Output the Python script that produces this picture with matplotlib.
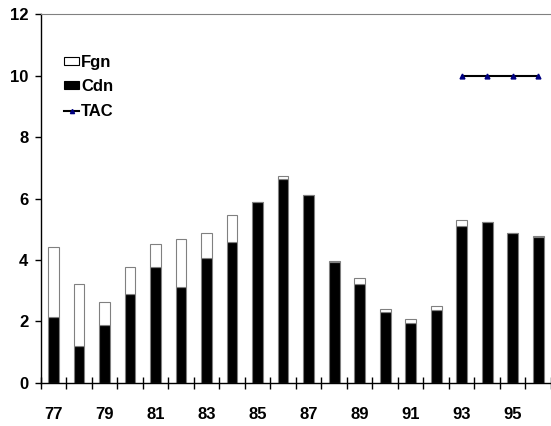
import numpy as np
import matplotlib
matplotlib.use("Agg")
import matplotlib.pyplot as plt
from matplotlib.patches import Patch
from matplotlib.lines import Line2D

plt.rcParams['font.family'] = ['Liberation Sans', 'DejaVu Sans']
plt.rcParams['font.weight'] = 'bold'

years = ['77', '78', '79', '80', '81', '82', '83', '84', '85', '86',
         '87', '88', '89', '90', '91', '92', '93', '94', '95', '96']
cdn = [2.13, 1.21, 1.89, 2.90, 3.76, 3.11, 4.07, 4.60, 5.90, 6.65,
       6.11, 3.92, 3.23, 2.30, 1.96, 2.38, 5.12, 5.22, 4.89, 4.74]
fgn = [2.29, 2.02, 0.73, 0.87, 0.75, 1.57, 0.81, 0.86, 0.0, 0.07,
       0.0, 0.04, 0.18, 0.12, 0.12, 0.13, 0.18, 0.0, 0.0, 0.04]
tac = [np.nan] * 16 + [10, 10, 10, 10]

fig = plt.figure(figsize=(5.51, 4.26), dpi=100)
ax = fig.add_axes([0.074, 0.101, 0.926, 0.866])

x = np.arange(len(years))
ax.bar(x, cdn, width=0.42, color='black', edgecolor='#808080', linewidth=0.8)
ax.bar(x, fgn, width=0.42, bottom=cdn, color='white', edgecolor='#808080', linewidth=0.8)
ax.plot(x, tac, color='black', lw=1.5, marker='^', markersize=3.5,
        markerfacecolor='#000080', markeredgecolor='#000080')

ax.set_xlim(-0.5, len(years) - 0.5)
ax.set_ylim(0, 12)
ax.set_yticks(range(0, 13, 2))
ax.tick_params(axis='y', direction='out', length=4, width=1, pad=5, labelsize=12)

ax.set_xticks(x[::2])
ax.set_xticklabels(years[::2])
ax.set_xticks(np.arange(-0.5, len(years), 1), minor=True)
ax.tick_params(axis='x', which='major', length=0, pad=17.5, labelsize=12)
ax.tick_params(axis='x', which='minor', direction='inout', length=9, width=1)

for lab in ax.get_xticklabels() + ax.get_yticklabels():
    lab.set_fontweight('bold')

ax.spines['right'].set_visible(False)
ax.spines['top'].set_color('#808080')
ax.spines['left'].set_linewidth(1)
ax.spines['bottom'].set_linewidth(1)

handles = [Patch(facecolor='white', edgecolor='black', linewidth=0.8),
           Patch(facecolor='black', edgecolor='black', linewidth=0.8),
           Line2D([], [], color='black', lw=1.5, marker='^', markersize=3,
                  markerfacecolor='#000080', markeredgecolor='#000080')]
leg = ax.legend(handles, ['Fgn', 'Cdn', 'TAC'], loc='upper left',
                bbox_to_anchor=(0.046, 0.89), frameon=False, fontsize=12,
                handlelength=0.9, handleheight=0.38, handletextpad=0.12,
                labelspacing=0.58, borderpad=0, borderaxespad=0)
for t in leg.get_texts():
    t.set_fontweight('bold')

fig.savefig('out.png', dpi=100)
